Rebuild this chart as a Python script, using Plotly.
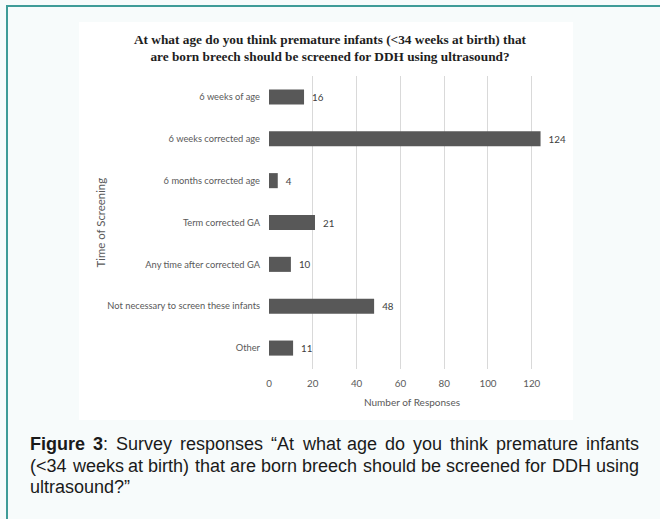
import plotly.graph_objects as go

# Survey answers (top to bottom) and number of responses
categories = [
    "6 weeks of age",
    "6 weeks corrected age",
    "6 months corrected age",
    "Term corrected GA",
    "Any time after corrected GA",
    "Not necessary to screen these infants",
    "Other",
]
responses = [16, 124, 4, 21, 10, 48, 11]
x_ticks = [0, 20, 40, 60, 80, 100, 120]

chart_title = ("<b>At what age do you think premature infants (<34 weeks at birth) that<br>"
               "are born breech should be screened for DDH using ultrasound?</b>")
caption_lines = [
    "<b>Figure</b> <b>3</b>: Survey responses “At what age do you think premature infants",
    "(<34 weeks at birth) that are born breech should be screened for DDH using",
    "ultrasound?”",
]

# ---- page geometry (pixels) ----
W, H = 660, 519
PL, PR, PT, PB = 269, 555, 76, 369          # plot area box


def px(x):
    return (x - PL) / (PR - PL)


def py(y):
    return (PB - y) / (PB - PT)


fig = go.Figure()
fig.add_trace(go.Bar(
    x=responses,
    y=categories,
    orientation="h",
    marker=dict(color="#585858", line=dict(width=0)),
    text=responses,
    texttemplate="\u00a0\u00a0%{x}",
    textposition="outside",
    constraintext="none",
    cliponaxis=False,
    textfont=dict(family="Lato", size=9.8, color="#404040"),
    hoverinfo="skip",
))

shapes = [
    # white chart panel
    dict(type="rect", xref="paper", yref="paper", layer="below",
         x0=px(79), x1=px(573), y0=py(22), y1=py(420),
         fillcolor="#ffffff", line=dict(width=0)),
    # teal frame lines
    dict(type="line", xref="paper", yref="paper",
         x0=px(6), x1=px(660), y0=py(6), y1=py(6),
         line=dict(color="#3f9c98", width=2)),
    dict(type="line", xref="paper", yref="paper",
         x0=px(7), x1=px(7), y0=py(6), y1=py(519),
         line=dict(color="#3f9c98", width=2)),
]

annotations = [
    dict(text=chart_title, xref="paper", yref="paper", x=px(330), y=py(47.5),
         xanchor="center", yanchor="middle", showarrow=False,
         font=dict(family="Liberation Serif", size=13.3, color="#1e1e1e")),
    dict(text="Time of Screening", xref="paper", yref="paper", x=px(100), y=0.5,
         xanchor="center", yanchor="middle", textangle=-90, showarrow=False,
         font=dict(family="Lato", size=11.4, color="#595959")),
    dict(text="Number of Responses", xref="paper", yref="paper", x=0.5, y=py(402),
         xanchor="center", yanchor="middle", showarrow=False,
         font=dict(family="Lato", size=10, color="#595959")),
]

# ---- justified caption using Arial / Liberation Sans advance widths ----
REG = {' ': 278, 'a': 556, 'b': 556, 'c': 500, 'd': 556, 'e': 556, 'f': 278, 'g': 556,
       'h': 556, 'i': 222, 'k': 500, 'l': 222, 'm': 833, 'n': 556, 'o': 556, 'p': 556,
       'r': 333, 's': 500, 't': 278, 'u': 556, 'v': 500, 'w': 722, 'y': 500, 'A': 667,
       'D': 722, 'H': 722, 'S': 667, '3': 556, '4': 556, '(': 333, ')': 333, '<': 584,
       ':': 278, '“': 333, '”': 333, '?': 556}
BOLD = {'F': 611, 'i': 278, 'g': 611, 'u': 611, 'r': 389, 'e': 556, '3': 556}
CAP_SIZE = 18
CAP_LEFT, CAP_RIGHT = 29, 638
CAP_Y = [444, 465.5, 487]


def word_width(word):
    bold = False
    total = 0
    i = 0
    while i < len(word):
        if word.startswith("<b>", i):
            bold, i = True, i + 3
            continue
        if word.startswith("</b>", i):
            bold, i = False, i + 4
            continue
        ch = word[i]
        total += (BOLD.get(ch, 600) if bold else REG.get(ch, 556))
        i += 1
    return total * CAP_SIZE / 1000.0


cap_font = dict(family="Liberation Sans", size=CAP_SIZE, color="#1a1a1a")
for k, line in enumerate(caption_lines):
    words = line.split(" ")
    last = k == len(caption_lines) - 1
    if last or len(words) < 2:
        annotations.append(dict(text=line, xref="paper", yref="paper",
                                x=px(CAP_LEFT), y=py(CAP_Y[k]), xanchor="left",
                                yanchor="middle", showarrow=False, borderpad=0,
                                font=cap_font))
        continue
    widths = [word_width(w) for w in words]
    gap = (CAP_RIGHT - CAP_LEFT - sum(widths)) / (len(words) - 1)
    xpos = CAP_LEFT
    for w, wd in zip(words, widths):
        annotations.append(dict(text=w, xref="paper", yref="paper",
                                x=px(xpos), y=py(CAP_Y[k]), xanchor="left",
                                yanchor="middle", showarrow=False, borderpad=0,
                                font=cap_font))
        xpos += wd + gap

fig.update_layout(
    width=W, height=H, autosize=False,
    margin=dict(l=PL, r=W - PR, t=PT, b=H - PB, pad=0),
    paper_bgcolor="#f7fbfb",
    plot_bgcolor="#ffffff",
    bargap=0.64,
    showlegend=False,
    shapes=shapes,
    annotations=annotations,
    xaxis=dict(
        range=[0, 130.6], tickvals=x_ticks, ticktext=[str(v) for v in x_ticks],
        showgrid=True, gridcolor="#d9d9d9", gridwidth=1, zeroline=False,
        showline=False, ticks="", ticklabelstandoff=7,
        tickfont=dict(family="Lato", size=9.8, color="#595959"),
        fixedrange=True,
    ),
    yaxis=dict(
        type="category", categoryorder="array", categoryarray=categories,
        autorange="reversed", showgrid=False, zeroline=False, showline=False,
        ticks="", ticklabelstandoff=8,
        tickfont=dict(family="Lato", size=9.3, color="#595959"),
        fixedrange=True,
    ),
)

fig.write_html("out.html", config={"displayModeBar": False})
